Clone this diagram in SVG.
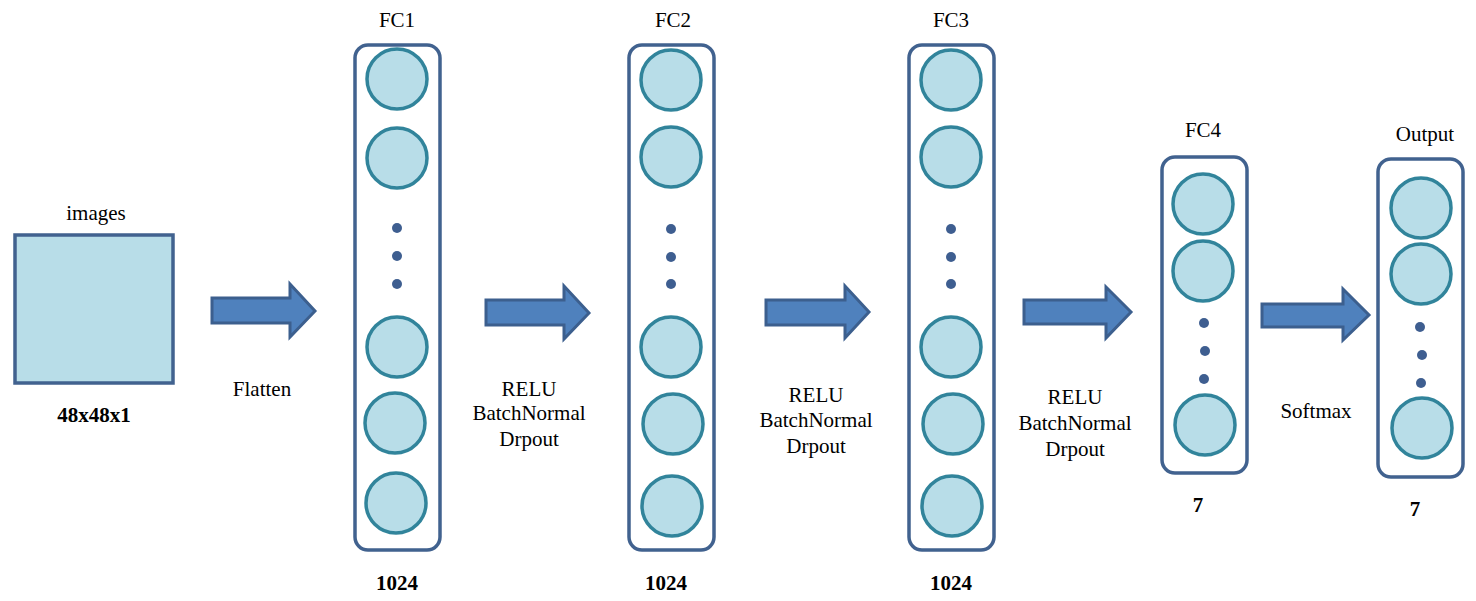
<svg xmlns="http://www.w3.org/2000/svg" width="1476" height="601" viewBox="0 0 1476 601">
<style>
.box{fill:#fff;stroke:#41628F;stroke-width:3.5}
.sq{fill:#B8DDE8;stroke:#41628F;stroke-width:3.5}
.n{fill:#B8DDE8;stroke:#31849B;stroke-width:3.5}
.d{fill:#3E5E90}
.ar{fill:#4F81BD;stroke:#3C5F8E;stroke-width:3;stroke-linejoin:miter}
text{font-family:"Liberation Serif","Times New Roman",serif;font-size:21px;fill:#000;text-anchor:middle}
.b{font-weight:bold}
</style>
<rect width="1476" height="601" fill="#fff"/>
<g id="images">
<rect class="sq" x="15" y="235" width="158" height="148"/>
<text x="96" y="220">images</text>
<text class="b" x="94" y="422">48x48x1</text>
</g>
<g id="fc1">
<rect class="box" x="355" y="45" width="85" height="505" rx="13"/>
<circle class="n" cx="397" cy="79" r="30"/>
<circle class="n" cx="397" cy="158" r="30"/>
<circle class="d" cx="397" cy="228" r="5"/>
<circle class="d" cx="397" cy="256" r="5"/>
<circle class="d" cx="397" cy="284" r="5"/>
<circle class="n" cx="397" cy="347" r="30"/>
<circle class="n" cx="395" cy="423" r="30"/>
<circle class="n" cx="396" cy="503" r="30"/>
<text x="397" y="27">FC1</text>
<text class="b" x="397" y="590">1024</text>
</g>
<g id="fc2">
<rect class="box" x="629" y="45" width="85" height="505" rx="13"/>
<circle class="n" cx="671" cy="80" r="30"/>
<circle class="n" cx="671" cy="157" r="30"/>
<circle class="d" cx="671" cy="229" r="5"/>
<circle class="d" cx="671" cy="257" r="5"/>
<circle class="d" cx="671" cy="284" r="5"/>
<circle class="n" cx="671" cy="347" r="30"/>
<circle class="n" cx="673" cy="424" r="30"/>
<circle class="n" cx="672" cy="506" r="30"/>
<text x="673" y="27">FC2</text>
<text class="b" x="666" y="590">1024</text>
</g>
<g id="fc3">
<rect class="box" x="909" y="45" width="85" height="505" rx="13"/>
<circle class="n" cx="951" cy="80" r="30"/>
<circle class="n" cx="951" cy="157" r="30"/>
<circle class="d" cx="951" cy="229" r="5"/>
<circle class="d" cx="951" cy="257" r="5"/>
<circle class="d" cx="951" cy="284" r="5"/>
<circle class="n" cx="951" cy="347" r="30"/>
<circle class="n" cx="953" cy="424" r="30"/>
<circle class="n" cx="952" cy="506" r="30"/>
<text x="951" y="27">FC3</text>
<text class="b" x="951" y="590">1024</text>
</g>
<g id="fc4">
<rect class="box" x="1162" y="157" width="85" height="316" rx="13"/>
<circle class="n" cx="1203" cy="204" r="30"/>
<circle class="n" cx="1203" cy="271" r="30"/>
<circle class="d" cx="1204" cy="323" r="5"/>
<circle class="d" cx="1205" cy="351" r="5"/>
<circle class="d" cx="1204" cy="379" r="5"/>
<circle class="n" cx="1205" cy="425" r="30"/>
<text x="1203" y="137">FC4</text>
<text class="b" x="1198" y="512">7</text>
</g>
<g id="output">
<rect class="box" x="1378" y="159" width="85" height="318" rx="13"/>
<circle class="n" cx="1421" cy="208" r="30"/>
<circle class="n" cx="1421" cy="274" r="30"/>
<circle class="d" cx="1420" cy="327" r="5"/>
<circle class="d" cx="1422" cy="355" r="5"/>
<circle class="d" cx="1421" cy="383" r="5"/>
<circle class="n" cx="1422" cy="428" r="30"/>
<text x="1425" y="141">Output</text>
<text class="b" x="1415" y="516">7</text>
</g>
<g id="connectors">
<path class="ar" d="M212,298 H290 V284 L315,311 L290,337 V323 H212 Z"/>
<path class="ar" d="M486,300 H564 V286 L589,313 L564,339 V325 H486 Z"/>
<path class="ar" d="M766,300 H845 V286 L869,312 L845,338 V325 H766 Z"/>
<path class="ar" d="M1024,300 H1106 V287 L1131,312 L1106,338 V324 H1024 Z"/>
<path class="ar" d="M1262,304 H1343 V289 L1369,315 L1343,340 V327 H1262 Z"/>
<text x="262" y="396">Flatten</text>
<text x="529" y="396">RELU</text>
<text x="529" y="420">BatchNormal</text>
<text x="529" y="446">Drpout</text>
<text x="816" y="402">RELU</text>
<text x="816" y="427">BatchNormal</text>
<text x="816" y="453">Drpout</text>
<text x="1075" y="404">RELU</text>
<text x="1075" y="430">BatchNormal</text>
<text x="1075" y="456">Drpout</text>
<text x="1316" y="418">Softmax</text>
</g>
</svg>
